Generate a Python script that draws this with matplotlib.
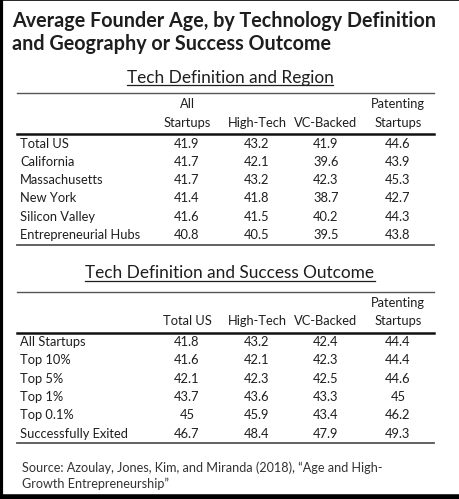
import matplotlib
matplotlib.use("Agg")
import matplotlib.pyplot as plt

plt.rcParams['font.family'] = ['Lato', 'DejaVu Sans']

title_lines = ["Average Founder Age, by Technology Definition",
               "and Geography or Success Outcome"]

# Table 1 : region
t1_title = "Tech Definition and Region"
t1_head_top = ["All", "", "", "Patenting"]
t1_head_bot = ["Startups", "High-Tech", "VC-Backed", "Startups"]
t1_rows = ["Total US", "California", "Massachusetts", "New York",
           "Silicon Valley", "Entrepreneurial Hubs"]
t1_all = ["41.9", "41.7", "41.7", "41.4", "41.6", "40.8"]
t1_high = ["43.2", "42.1", "43.2", "41.8", "41.5", "40.5"]
t1_vc = ["41.9", "39.6", "42.3", "38.7", "40.2", "39.5"]
t1_pat = ["44.6", "43.9", "45.3", "42.7", "44.3", "43.8"]

# Table 2 : success outcome
t2_title = "Tech Definition and Success Outcome"
t2_head_top = ["", "", "", "Patenting"]
t2_head_bot = ["Total US", "High-Tech", "VC-Backed", "Startups"]
t2_rows = ["All Startups", "Top 10%", "Top 5%", "Top 1%", "Top 0.1%",
           "Successfully Exited"]
t2_total = ["41.8", "41.6", "42.1", "43.7", "45", "46.7"]
t2_high = ["43.2", "42.1", "42.3", "43.6", "45.9", "48.4"]
t2_vc = ["42.4", "42.3", "42.5", "43.3", "43.4", "47.9"]
t2_pat = ["44.4", "44.4", "44.6", "45", "46.2", "49.3"]

source = ["Source: Azoulay, Jones, Kim, and Miranda (2018), \u201cAge and High-",
          "Growth Entrepreneurship\u201d"]

W, H = 460, 499
fig = plt.figure(figsize=(W / 100, H / 100), dpi=100)
ax = fig.add_axes([0, 0, 1, 1])
ax.set_xlim(0, W)
ax.set_ylim(H, 0)
ax.axis('off')

ink = '#1e1e1e'
col_x = [187, 257, 326, 398]
x_left, x_right = 17, 434
row_h = 18.3
fs = 9.3

# black edges of the screenshot
ax.axvline(1, color='black', lw=3)
ax.axhline(497, color='black', lw=4)
ax.axhline(0, color='black', lw=1.2)

ax.text(12, 26.5, title_lines[0], fontsize=14.2, fontweight='bold', color=ink, va='baseline')
ax.text(12, 49.5, title_lines[1], fontsize=14.2, fontweight='bold', color=ink, va='baseline')

underlined = []


def draw_table(y_title, title, head_top, head_bot, rows, cols, y_top_rule):
    t = ax.text(W / 2, y_title, title, fontsize=12.4, color=ink, ha='center', va='baseline')
    underlined.append((t, y_title + 2.2))
    ax.plot([x_left, x_right], [y_top_rule, y_top_rule], color='#555555', lw=1.0)
    y_head1 = y_top_rule + 15
    y_head2 = y_head1 + 18.3
    for i in range(4):
        if head_top[i]:
            ax.text(col_x[i], y_head1, head_top[i], fontsize=fs, color=ink, ha='center', va='baseline')
        ax.text(col_x[i], y_head2, head_bot[i], fontsize=fs, color=ink, ha='center', va='baseline')
    y_rule2 = y_head2 + 7.5
    ax.plot([x_left, x_right], [y_rule2, y_rule2], color='#111111', lw=1.8)
    y0 = y_rule2 + 13.5
    for r, name in enumerate(rows):
        y = y0 + r * row_h
        ax.text(20, y, name, fontsize=fs, color=ink, ha='left', va='baseline')
        for i, c in enumerate(cols):
            ax.text(col_x[i], y, c[r], fontsize=fs, color=ink, ha='center', va='baseline')
    y_bot = y0 + (len(rows) - 1) * row_h + 5.8
    ax.plot([x_left, x_right], [y_bot, y_bot], color='#555555', lw=1.3)


draw_table(82.7, t1_title, t1_head_top, t1_head_bot, t1_rows,
           [t1_all, t1_high, t1_vc, t1_pat], 93.3)
draw_table(278.3, t2_title, t2_head_top, t2_head_bot, t2_rows,
           [t2_total, t2_high, t2_vc, t2_pat], 291.7)

ax.text(22, 472.5, source[0], fontsize=9.1, color='#333333', va='baseline')
ax.text(22, 488.5, source[1], fontsize=9.1, color='#333333', va='baseline')

# underline the two table titles
fig.canvas.draw()
inv = ax.transData.inverted()
for t, yl in underlined:
    bb = t.get_window_extent()
    x0 = inv.transform((bb.x0, bb.y0))[0]
    x1 = inv.transform((bb.x1, bb.y0))[0]
    ax.plot([x0, x1], [yl, yl], color=ink, lw=0.9)

fig.savefig('out.png', dpi=100, facecolor='white')
